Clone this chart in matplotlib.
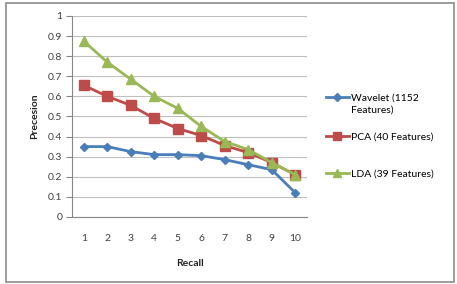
import matplotlib.pyplot as plt
from matplotlib.legend import Legend
from matplotlib.patches import Rectangle

recall = [1, 2, 3, 4, 5, 6, 7, 8, 9, 10]
wavelet = [0.35, 0.35, 0.325, 0.31, 0.31, 0.305, 0.285, 0.26, 0.235, 0.12]
pca = [0.655, 0.60, 0.555, 0.49, 0.44, 0.405, 0.355, 0.32, 0.27, 0.21]
lda = [0.875, 0.77, 0.685, 0.60, 0.54, 0.45, 0.375, 0.335, 0.27, 0.21]
labels = ['Wavelet (1152', 'PCA (40 Features)', 'LDA (39 Features)']
wrap = 'Features)'  # second line of the wavelet label

plt.rcParams['font.family'] = ['Lato', 'DejaVu Sans']

fig = plt.figure(figsize=(4.57, 2.84), dpi=100)
ax = fig.add_axes([0.1575, 0.236, 0.5145, 0.708])

l1, = ax.plot(recall, wavelet, color='#4A7EBB', marker='D', markersize=4.5, linewidth=2)
l2, = ax.plot(recall, pca, color='#BE4B48', marker='s', markersize=7, linewidth=2)
l3, = ax.plot(recall, lda, color='#98B954', marker='^', markersize=7, linewidth=2)

ax.set_xlim(0.5, 10.5)
ax.set_ylim(0, 1)
ax.set_yticks([i / 10 for i in range(11)])
ax.set_yticklabels(['0', '0.1', '0.2', '0.3', '0.4', '0.5', '0.6', '0.7', '0.8', '0.9', '1'])
ax.set_xticks(recall)
ax.grid(axis='y', color='#BFBFBF', linewidth=0.8)
ax.set_axisbelow(True)
for s in ['top', 'right']:
    ax.spines[s].set_visible(False)
for s in ['left', 'bottom']:
    ax.spines[s].set_color('#888888')
ax.tick_params(axis='y', length=4, color='#888888', labelsize=7.5, labelcolor='#404040', pad=3)
ax.tick_params(axis='x', length=0, labelsize=7.5, labelcolor='#404040', pad=12)
ax.set_xlabel('Recall', fontsize=7.5, fontweight='bold', color='#222222', labelpad=12)
ax.set_ylabel('Precesion', fontsize=7.5, fontweight='bold', color='#222222', labelpad=6)

# one legend per entry so the spacing matches the original
legs = []
for line, lab, ypos in zip([l1, l2, l3], labels, [0.592, 0.398, 0.214]):
    leg = Legend(ax, [line], [lab], loc='center left', bbox_to_anchor=(1.08, ypos),
                 frameon=False, fontsize=7.5, handlelength=2.2, handletextpad=0.2,
                 borderpad=0, borderaxespad=0, markerscale=0.9)
    ax.add_artist(leg)
    legs.append(leg)

# drawn after the legends so it can follow the first label
ax.annotate(wrap, xy=(0, 0), xycoords=legs[0].get_texts()[0], xytext=(0, -3),
            textcoords='offset pixels', va='top', ha='left', fontsize=7.5, zorder=10)

fig.patches.append(Rectangle((0.013, 0.007), 0.98, 0.982, transform=fig.transFigure,
                             fill=False, edgecolor='#8C8C8C', linewidth=1.2))

plt.savefig('out.png', dpi=100)
